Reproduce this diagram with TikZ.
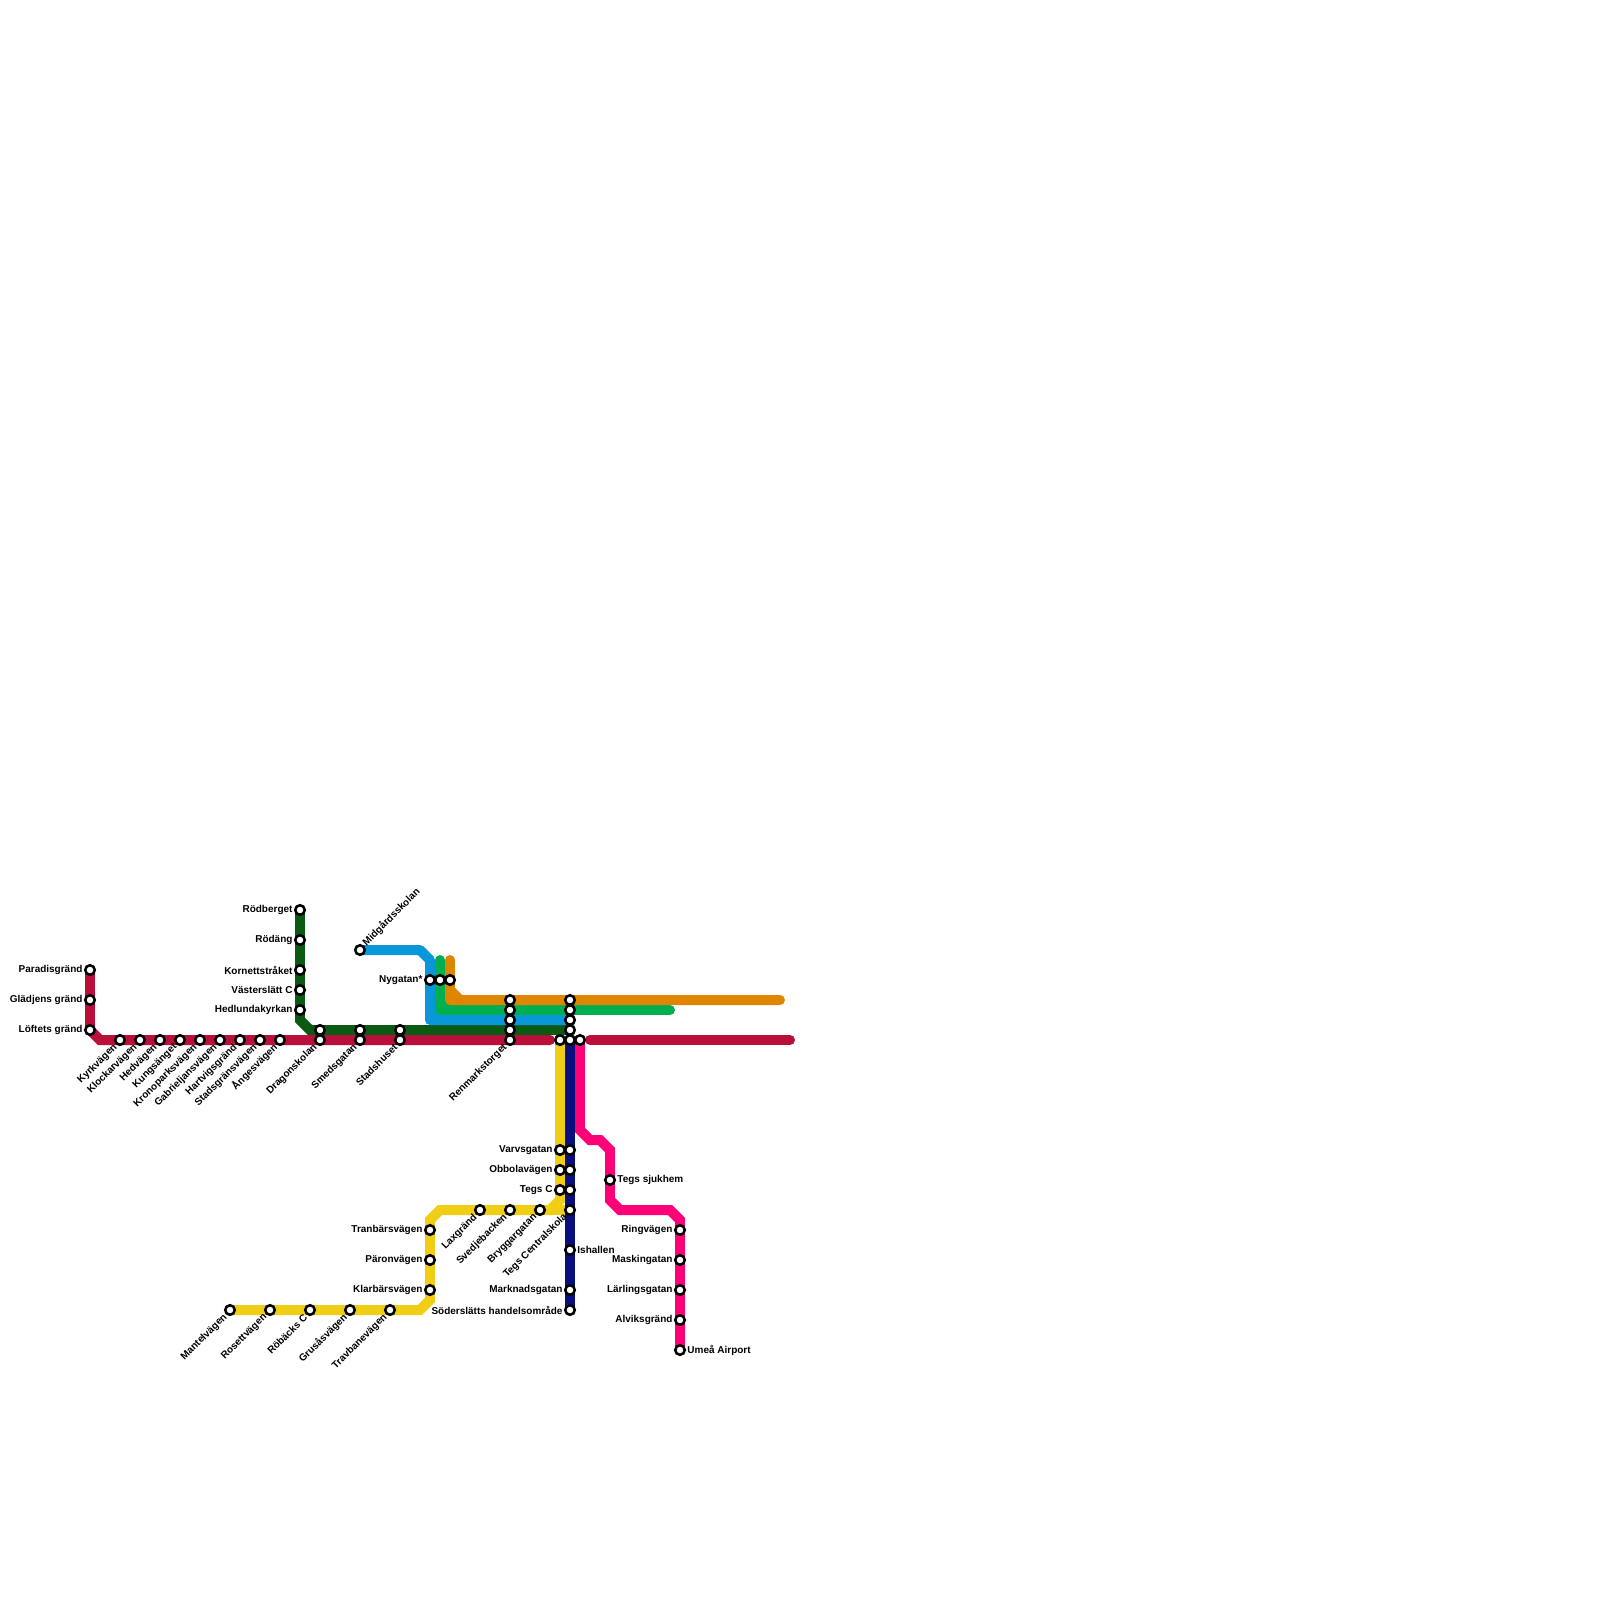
\documentclass[tikz,border=0pt]{standalone}
\usepackage{fontspec}
\setmainfont{Liberation Sans}
\usepackage{xcolor}
\usetikzlibrary{backgrounds}
\definecolor{crimsonLine}{HTML}{BA0E3B}
\definecolor{forestLine}{HTML}{0B5A14}
\definecolor{skyLine}{HTML}{0A97D9}
\definecolor{meadowLine}{HTML}{00B050}
\definecolor{amberLine}{HTML}{DF8600}
\definecolor{sunLine}{HTML}{F0CE15}
\definecolor{navyLine}{HTML}{0A0F7E}
\definecolor{pinkLine}{HTML}{FF0078}

\begin{document}
\begin{tikzpicture}[
    x=0.25cm, y=-0.25cm,
    stn/.style={circle, draw=black, fill=white, line width=1.8pt, minimum size=6.8pt, inner sep=0pt},
    stl/.style={font=\fontsize{7.1}{8}\selectfont\bfseries, inner sep=0pt, text=black},
    lw/.style={label={[stl,anchor=east,label distance=0.85pt]180:#1}},
    le/.style={label={[stl,anchor=west,label distance=0.8pt]0:#1}},
    ld/.style={label={[stl,rotate=45,anchor=east,label distance=1pt]225:#1}},
    lu/.style={label={[stl,rotate=45,anchor=west,label distance=1pt]45:#1}},
    metro/.style={line width=7.1pt, line join=miter, line cap=butt},
    endcap/.style={line cap=round},
    softjoin/.style={line join=round}
  ]
  \useasboundingbox (0,0) rectangle (160,160);

  \node[stn, lw=Paradisgränd]  (paradis) at (9,97)  {};
  \node[stn, lw=Glädjens gränd] (gladjen) at (9,100) {};
  \node[stn, lw=Löftets gränd] (loftet) at (9,103) {};
  \node[stn, ld=Kyrkvägen]      (kyrk)    at (12,104) {};
  \node[stn, ld=Klockarvägen]   (klockar) at (14,104) {};
  \node[stn, ld=Hedvägen]       (hed)     at (16,104) {};
  \node[stn, ld=Kungsänget]     (kungs)   at (18,104) {};
  \node[stn, ld=Kronoparksvägen] (krono)  at (20,104) {};
  \node[stn, ld=Gabrieljansvägen] (gabriel) at (22,104) {};
  \node[stn, ld=Hartvigsgränd]  (hartvig) at (24,104) {};
  \node[stn, ld=Stadsgränsvägen] (stadsgrans) at (26,104) {};
  \node[stn, ld=Ångesvägen]     (anges)   at (28,104) {};
  \node[stn, ld=Dragonskolan]   (dragon)  at (32,104) {};
  \node[stn, ld=Smedsgatan]     (smed)    at (36,104) {};
  \node[stn, ld=Stadshuset]     (stadshus) at (40,104) {};
  \node[stn, ld=Renmarkstorget] (renmark) at (51,104) {};

  \node[stn, lw=Rödberget]      (rodberg) at (30,91)  {};
  \node[stn, lw=Rödäng]         (rodang)  at (30,94)  {};
  \node[stn, lw=Kornettstråket] (kornett) at (30,97)  {};
  \node[stn, lw=Västerslätt C]  (vaster)  at (30,99)  {};
  \node[stn, lw=Hedlundakyrkan] (hedlund) at (30,101) {};
  \node[stn] (dragonN)   at (32,103) {};
  \node[stn] (smedN)     at (36,103) {};
  \node[stn] (stadshusN) at (40,103) {};
  \node[stn] (renmarkG)  at (51,103) {};
  \node[stn] (renmarkS)  at (51,102) {};
  \node[stn] (renmarkM)  at (51,101) {};
  \node[stn] (renmarkA)  at (51,100) {};

  \node[stn, lu=Midgårdsskolan] (midgard) at (36,95) {};
  \node[stn, lw=Nygatan*] (nygatanS) at (43,98) {};
  \node[stn] (nygatanM) at (44,98) {};
  \node[stn] (nygatanA) at (45,98) {};

  \node[stn] (centralA) at (57,100) {};
  \node[stn] (centralM) at (57,101) {};
  \node[stn] (centralS) at (57,102) {};
  \node[stn] (centralG) at (57,103) {};
  \node[stn] (centralY) at (56,104) {};
  \node[stn] (centralN) at (57,104) {};
  \node[stn] (centralP) at (58,104) {};

  \node[stn, lw=Varvsgatan]  (varvsY)  at (56,115) {};
  \node[stn, lw=Obbolavägen] (obbolaY) at (56,117) {};
  \node[stn, lw=Tegs C]      (tegsY)   at (56,119) {};
  \node[stn] (varvsN)  at (57,115) {};
  \node[stn] (obbolaN) at (57,117) {};
  \node[stn] (tegsN)   at (57,119) {};
  \node[stn, ld=Tegs Centralskola] (centralskola) at (57,121) {};
  \node[stn, le=Ishallen]      (ishallen) at (57,125) {};
  \node[stn, lw=Marknadsgatan] (marknad)  at (57,129) {};
  \node[stn, lw=Söderslätts handelsområde] (soderslatt) at (57,131) {};

  \node[stn, ld=Bryggargatan]  (brygga)  at (54,121) {};
  \node[stn, ld=Svedjebacken]  (svedje)  at (51,121) {};
  \node[stn, ld=Laxgränd]      (lax)     at (48,121) {};
  \node[stn, lw=Tranbärsvägen] (tranbar) at (43,123) {};
  \node[stn, lw=Päronvägen]    (paron)   at (43,126) {};
  \node[stn, lw=Klarbärsvägen] (klarbar) at (43,129) {};
  \node[stn, ld=Travbanevägen] (travbane) at (39,131) {};
  \node[stn, ld=Grusåsvägen]   (grusas)  at (35,131) {};
  \node[stn, ld=Röbäcks C]     (robacks) at (31,131) {};
  \node[stn, ld=Rosettvägen]   (rosett)  at (27,131) {};
  \node[stn, ld=Mantelvägen]   (mantel)  at (23,131) {};

  \node[stn, le=Tegs sjukhem]  (sjukhem) at (61,118) {};
  \node[stn, lw=Ringvägen]     (ring)    at (68,123) {};
  \node[stn, lw=Maskingatan]   (maskin)  at (68,126) {};
  \node[stn, lw=Lärlingsgatan] (larling) at (68,129) {};
  \node[stn, lw=Alviksgränd]   (alvik)   at (68,132) {};
  \node[stn, le=Umeå Airport]  (umea)    at (68,135) {};

  \coordinate (crimsonA) at (10,104);
  \coordinate (crimsonB) at (55,104);
  \coordinate (crimsonC) at (59,104);
  \coordinate (crimsonD) at (79,104);
  \coordinate (forestA) at (30,102);
  \coordinate (forestB) at (31,103);
  \coordinate (skyA) at (42,95);
  \coordinate (skyB) at (43,96);
  \coordinate (skyC) at (43,102);
  \coordinate (meadowA) at (44,96);
  \coordinate (meadowB) at (44,101);
  \coordinate (meadowC) at (67,101);
  \coordinate (amberA) at (45,96);
  \coordinate (amberB) at (45,99);
  \coordinate (amberC) at (45,100);
  \coordinate (amberD) at (46,100);
  \coordinate (amberE) at (78,100);
  \coordinate (sunA) at (56,120);
  \coordinate (sunB) at (55,121);
  \coordinate (sunC) at (44,121);
  \coordinate (sunD) at (43,122);
  \coordinate (sunE) at (43,130);
  \coordinate (sunF) at (42,131);
  \coordinate (pinkA) at (58,113);
  \coordinate (pinkB) at (59,114);
  \coordinate (pinkC) at (60,114);
  \coordinate (pinkD) at (61,115);
  \coordinate (pinkE) at (61,120);
  \coordinate (pinkF) at (62,121);
  \coordinate (pinkG) at (67,121);
  \coordinate (pinkH) at (68,122);

  \begin{pgfonlayer}{background}
    \draw[metro,endcap,crimsonLine] (paradis.center) -- (loftet.center) -- (crimsonA) -- (crimsonB);
    \draw[metro,endcap,crimsonLine] (crimsonC) -- (crimsonD);
    \draw[metro,forestLine] (rodberg.center) -- (forestA) -- (forestB) -- (centralG.center);
    \draw[metro,softjoin,skyLine] (midgard.center) -- (skyA) -- (skyB) -- (skyC) -- (centralS.center);
    \draw[metro,skyLine] (skyC) -- (meadowB);
    \draw[metro,softjoin,endcap,meadowLine] (meadowA) -- (meadowB) -- (meadowC);
    \draw[metro,meadowLine] (meadowB) -- (amberC);
    \draw[metro,endcap,amberLine] (amberA) -- (amberB) -- (amberD) -- (amberE);
    \draw[metro,softjoin,amberLine] (amberB) -- (amberC) -- (amberD);
    \draw[metro,sunLine] (centralY.center) -- (sunA) -- (sunB) -- (sunC) -- (sunD) -- (sunE) -- (sunF) -- (mantel.center);
    \draw[metro,sunLine] (sunB) -- (centralskola.center);
    \draw[metro,navyLine] (centralN.center) -- (soderslatt.center);
    \draw[metro,pinkLine] (centralP.center) -- (pinkA) -- (pinkB) -- (pinkC) -- (pinkD) -- (pinkE) -- (pinkF) -- (pinkG) -- (pinkH) -- (umea.center);
  \end{pgfonlayer}
\end{tikzpicture}
\end{document}
